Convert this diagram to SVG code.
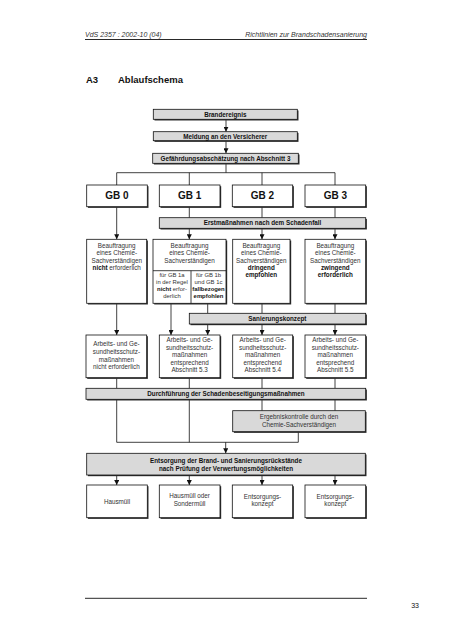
<svg xmlns="http://www.w3.org/2000/svg" width="452" height="640" viewBox="0 0 452 640">
<defs>
<style>
text{font-family:"Liberation Sans",Arial,sans-serif;fill:#111}
.t{font-size:6.3px;text-anchor:middle;fill:#333}
.b{font-weight:bold}
.bt{font-size:6.3px;font-weight:bold;text-anchor:middle;fill:#111}
.t.s,.bt.s{font-size:5.9px}
.gb{font-size:10px;font-weight:bold;text-anchor:middle}
.hd{font-size:7px;font-style:italic;fill:#333}
.box{fill:#fff;stroke:#111;stroke-width:0.8}
.bar{fill:#d9d9d9;stroke:#111;stroke-width:0.8}
.sh{fill:#333}
.c{stroke:#111;stroke-width:0.8;fill:none}
</style>
<marker id="ah" viewBox="0 0 6 6" refX="6" refY="3" markerWidth="5" markerHeight="5" orient="auto" markerUnits="userSpaceOnUse">
<path d="M0,0 L6,3 L0,6 z" fill="#111"/>
</marker>
</defs>
<rect width="452" height="640" fill="#fff"/>

<g id="header">
<text class="hd" x="85" y="37">VdS 2357 : 2002-10 (04)</text>
<text class="hd" x="367" y="37" text-anchor="end">Richtlinien zur Brandschadensanierung</text>
<line x1="85" y1="39.5" x2="367" y2="39.5" stroke="#111" stroke-width="0.9"/>
<text x="86" y="83" font-size="9.5" font-weight="bold">A3</text>
<text x="118" y="83" font-size="9.5" font-weight="bold">Ablaufschema</text>
</g>

<g id="connectors">
<path class="c" d="M226,119.3 V131.7" marker-end="url(#ah)"/>
<path class="c" d="M226,140.7 V153.3" marker-end="url(#ah)"/>
<path class="c" d="M226,163.3 V172.7 M116.7,172.7 H335 M116.7,172.7 V185 M189.3,172.7 V185 M262,172.7 V185 M335,172.7 V185"/>
<path class="c" d="M116.7,206.7 V239.3" marker-end="url(#ah)"/>
<path class="c" d="M189.3,206.7 V217.7 M262,206.7 V217.7 M335,206.7 V217.7"/>
<path class="c" d="M189.3,228.3 V239.3" marker-end="url(#ah)"/>
<path class="c" d="M262,228.3 V239.3" marker-end="url(#ah)"/>
<path class="c" d="M335,228.3 V239.3" marker-end="url(#ah)"/>
<path class="c" d="M116.7,303.3 V335" marker-end="url(#ah)"/>
<path class="c" d="M171,303.3 V335" marker-end="url(#ah)"/>
<path class="c" d="M207.7,303.3 V313.3 M262,303.3 V313.3 M335,303.3 V313.3"/>
<path class="c" d="M207.7,324 V335" marker-end="url(#ah)"/>
<path class="c" d="M262,324 V335" marker-end="url(#ah)"/>
<path class="c" d="M335,324 V335" marker-end="url(#ah)"/>
<path class="c" d="M116.7,377.7 V388.3 M189.3,377.7 V388.3 M262,377.7 V388.3 M335,377.7 V388.3"/>
<path class="c" d="M262,399.3 V410.7 M335,399.3 V410.7"/>
<path class="c" d="M116.7,399.3 V442.3 H298.3 V431.7 M189.3,399.3 V442.3"/>
<path class="c" d="M225.7,442.3 V453.3" marker-end="url(#ah)"/>
<path class="c" d="M116.7,475 V485" marker-end="url(#ah)"/>
<path class="c" d="M189.3,475 V485" marker-end="url(#ah)"/>
<path class="c" d="M262,475 V485" marker-end="url(#ah)"/>
<path class="c" d="M335,475 V485" marker-end="url(#ah)"/>
</g>

<g id="n-brandereignis">
<rect class="sh" x="154.5" y="110.5" width="144" height="10"/>
<rect class="bar" x="153.3" y="109.3" width="144" height="10"/>
<text class="bt" x="225.3" y="116.6">Brandereignis</text>
</g>
<g id="n-meldung">
<rect class="sh" x="154.5" y="132.9" width="144" height="9"/>
<rect class="bar" x="153.3" y="131.7" width="144" height="9"/>
<text class="bt" x="225.3" y="138.5">Meldung an den Versicherer</text>
</g>
<g id="n-gefaehrdung">
<rect class="sh" x="153.9" y="154.5" width="145.6" height="10"/>
<rect class="bar" x="152.7" y="153.3" width="145.6" height="10"/>
<text class="bt" x="225.5" y="160.6">Gefährdungsabschätzung nach Abschnitt 3</text>
</g>

<g id="n-gb0">
<rect class="sh" x="87.9" y="186.2" width="60.6" height="21.7"/>
<rect class="box" x="86.7" y="185" width="60.6" height="21.7"/>
<text class="gb" x="117" y="199.3">GB 0</text>
</g>
<g id="n-gb1">
<rect class="sh" x="160.5" y="186.2" width="60.7" height="21.7"/>
<rect class="box" x="159.3" y="185" width="60.7" height="21.7"/>
<text class="gb" x="189.6" y="199.3">GB 1</text>
</g>
<g id="n-gb2">
<rect class="sh" x="233.5" y="186.2" width="60.4" height="21.7"/>
<rect class="box" x="232.3" y="185" width="60.4" height="21.7"/>
<text class="gb" x="262.5" y="199.3">GB 2</text>
</g>
<g id="n-gb3">
<rect class="sh" x="306.2" y="186.2" width="60.7" height="21.7"/>
<rect class="box" x="305" y="185" width="60.7" height="21.7"/>
<text class="gb" x="335.3" y="199.3">GB 3</text>
</g>

<g id="n-erstmassnahmen">
<rect class="sh" x="160.5" y="218.9" width="206.4" height="10.6"/>
<rect class="bar" x="159.3" y="217.7" width="206.4" height="10.6"/>
<text class="bt" x="262.5" y="225.3">Erstmaßnahmen nach dem Schadenfall</text>
</g>

<g id="n-beauftragung0">
<rect class="sh" x="87.9" y="240.5" width="60" height="64"/>
<rect class="box" x="86.7" y="239.3" width="60" height="64"/>
<text class="t" x="116.7" y="248">Beauftragung</text>
<text class="t" x="116.7" y="255.3">eines Chemie-</text>
<text class="t" x="116.7" y="262.6">Sachverständigen</text>
<text class="t" x="116.7" y="269.9"><tspan class="b" fill="#111">nicht</tspan> erforderlich</text>
</g>
<g id="n-beauftragung1">
<rect class="sh" x="154.2" y="240.5" width="73" height="64"/>
<rect class="box" x="153" y="239.3" width="73" height="64"/>
<path class="c" d="M153,270.7 H226 M191,270.7 V303.3"/>
<text class="t" x="189.5" y="248">Beauftragung</text>
<text class="t" x="189.5" y="255.3">eines Chemie-</text>
<text class="t" x="189.5" y="262.6">Sachverständigen</text>
<text class="t s" x="172" y="276.6">für GB 1a</text>
<text class="t s" x="172" y="283.7">in der Regel</text>
<text class="t s" x="172" y="291"><tspan class="b" fill="#111">nicht</tspan> erfor-</text>
<text class="t s" x="172" y="298">derlich</text>
<text class="t s" x="208.5" y="276.6">für GB 1b</text>
<text class="t s" x="208.5" y="283.7">und GB 1c</text>
<text class="bt s" x="208.5" y="291">fallbezogen</text>
<text class="bt s" x="208.5" y="298">empfohlen</text>
</g>
<g id="n-beauftragung2">
<rect class="sh" x="233.9" y="240.5" width="57.3" height="64"/>
<rect class="box" x="232.7" y="239.3" width="57.3" height="64"/>
<text class="t" x="261.3" y="248">Beauftragung</text>
<text class="t" x="261.3" y="255.3">eines Chemie-</text>
<text class="t" x="261.3" y="262.6">Sachverständigen</text>
<text class="bt" x="261.3" y="269.9">dringend</text>
<text class="bt" x="261.3" y="277.2">empfohlen</text>
</g>
<g id="n-beauftragung3">
<rect class="sh" x="306.2" y="240.5" width="60.7" height="64"/>
<rect class="box" x="305" y="239.3" width="60.7" height="64"/>
<text class="t" x="335.3" y="248">Beauftragung</text>
<text class="t" x="335.3" y="255.3">eines Chemie-</text>
<text class="t" x="335.3" y="262.6">Sachverständigen</text>
<text class="bt" x="335.3" y="269.9">zwingend</text>
<text class="bt" x="335.3" y="277.2">erforderlich</text>
</g>

<g id="n-sanierungskonzept">
<rect class="sh" x="190.5" y="314.5" width="176.4" height="10.7"/>
<rect class="bar" x="189.3" y="313.3" width="176.4" height="10.7"/>
<text class="bt" x="277.4" y="320.9">Sanierungskonzept</text>
</g>

<g id="n-arbeitsschutz0">
<rect class="sh" x="87.2" y="336.2" width="60.7" height="42.7"/>
<rect class="box" x="86" y="335" width="60.7" height="42.7"/>
<text class="t" x="116.4" y="346.3">Arbeits- und Ge-</text>
<text class="t" x="116.4" y="354">sundheitsschutz-</text>
<text class="t" x="116.4" y="361.6">maßnahmen</text>
<text class="t" x="116.4" y="369.3">nicht erforderlich</text>
</g>
<g id="n-arbeitsschutz1">
<rect class="sh" x="160.5" y="336.2" width="60.7" height="42.7"/>
<rect class="box" x="159.3" y="335" width="60.7" height="42.7"/>
<text class="t" x="189.6" y="342.3">Arbeits- und Ge-</text>
<text class="t" x="189.6" y="349.8">sundheitsschutz-</text>
<text class="t" x="189.6" y="357.3">maßnahmen</text>
<text class="t" x="189.6" y="364.8">entsprechend</text>
<text class="t" x="189.6" y="372.3">Abschnitt 5.3</text>
</g>
<g id="n-arbeitsschutz2">
<rect class="sh" x="233.9" y="336.2" width="60" height="42.7"/>
<rect class="box" x="232.7" y="335" width="60" height="42.7"/>
<text class="t" x="262.7" y="342.3">Arbeits- und Ge-</text>
<text class="t" x="262.7" y="349.8">sundheitsschutz-</text>
<text class="t" x="262.7" y="357.3">maßnahmen</text>
<text class="t" x="262.7" y="364.8">entsprechend</text>
<text class="t" x="262.7" y="372.3">Abschnitt 5.4</text>
</g>
<g id="n-arbeitsschutz3">
<rect class="sh" x="306.2" y="336.2" width="60.7" height="42.7"/>
<rect class="box" x="305" y="335" width="60.7" height="42.7"/>
<text class="t" x="335.3" y="342.3">Arbeits- und Ge-</text>
<text class="t" x="335.3" y="349.8">sundheitsschutz-</text>
<text class="t" x="335.3" y="357.3">maßnahmen</text>
<text class="t" x="335.3" y="364.8">entsprechend</text>
<text class="t" x="335.3" y="372.3">Abschnitt 5.5</text>
</g>

<g id="n-durchfuehrung">
<rect class="sh" x="87.2" y="389.5" width="279.7" height="11"/>
<rect class="bar" x="86" y="388.3" width="279.7" height="11"/>
<text class="bt" x="226" y="396.1">Durchführung der Schadenbeseitigungsmaßnahmen</text>
</g>

<g id="n-ergebniskontrolle">
<rect class="sh" x="233.9" y="411.9" width="132.6" height="21"/>
<rect class="bar" x="232.7" y="410.7" width="132.6" height="21"/>
<text class="t" x="299" y="419.3">Ergebniskontrolle durch den</text>
<text class="t" x="299" y="426.8">Chemie-Sachverständigen</text>
</g>

<g id="n-entsorgung">
<rect class="sh" x="87.9" y="454.5" width="278.6" height="21.7"/>
<rect class="bar" x="86.7" y="453.3" width="278.6" height="21.7"/>
<text class="bt" x="226" y="462.8">Entsorgung der Brand- und Sanierungsrückstände</text>
<text class="bt" x="226" y="470.6">nach Prüfung der Verwertungsmöglichkeiten</text>
</g>

<g id="n-hausmuell">
<rect class="sh" x="87.9" y="486.2" width="60.6" height="32.7"/>
<rect class="box" x="86.7" y="485" width="60.6" height="32.7"/>
<text class="t" x="117" y="504">Hausmüll</text>
</g>
<g id="n-hausmuell-sondermuell">
<rect class="sh" x="160.5" y="486.2" width="60.7" height="32.7"/>
<rect class="box" x="159.3" y="485" width="60.7" height="32.7"/>
<text class="t" x="189.6" y="498">Hausmüll oder</text>
<text class="t" x="189.6" y="505.5">Sondermüll</text>
</g>
<g id="n-entsorgungskonzept2">
<rect class="sh" x="233.5" y="486.2" width="60.4" height="32.7"/>
<rect class="box" x="232.3" y="485" width="60.4" height="32.7"/>
<text class="t" x="262.5" y="498.5">Entsorgungs-</text>
<text class="t" x="262.5" y="506">konzept</text>
</g>
<g id="n-entsorgungskonzept3">
<rect class="sh" x="306.2" y="486.2" width="60.7" height="32.7"/>
<rect class="box" x="305" y="485" width="60.7" height="32.7"/>
<text class="t" x="335.3" y="498.5">Entsorgungs-</text>
<text class="t" x="335.3" y="506">konzept</text>
</g>

<g id="footer">
<line x1="85" y1="598.3" x2="367" y2="598.3" stroke="#111" stroke-width="0.9"/>
<text x="419" y="608" font-size="7" text-anchor="end" fill="#333">33</text>
</g>
</svg>
